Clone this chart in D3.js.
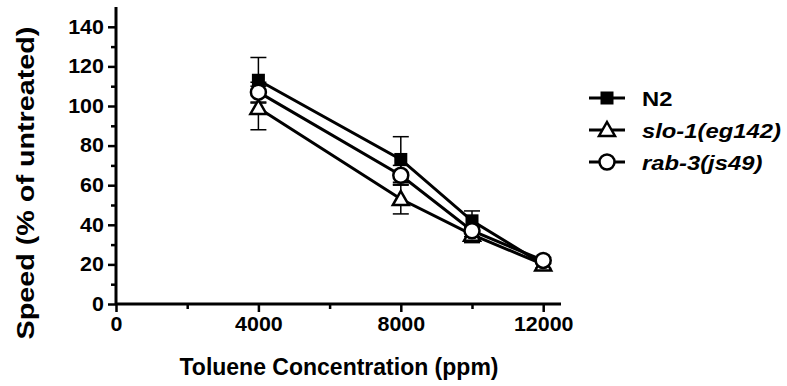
<!DOCTYPE html>
<html>
<head>
<meta charset="utf-8">
<script src="https://cdn.jsdelivr.net/npm/d3@7"></script>
<style>
  body { margin: 0; background: #fff; }
  text { font-family: "Liberation Sans", Arial, sans-serif; font-weight: bold; }
</style>
</head>
<body>
<script>
// concentrations (ppm)
var conc = [4000, 8000, 10000, 12000];
var seriesNames = ["N2", "slo-1(eg142)", "rab-3(js49)"];
var seriesShapes = ["square", "triangle", "circle"];
// speed (% of untreated), mean and SEM
var n2Mean = [113, 73, 42, 20];
var n2Err = [11.5, 11.5, 5, 2];
var sloMean = [99, 53, 35, 20];
var sloErr = [11, 7.5, 4, 2];
var rabMean = [107, 65, 37, 22];
var rabErr = [5, 5, 3, 1.5];
var xTicks = [0, 4000, 8000, 12000];
var yTicks = [0, 20, 40, 60, 80, 100, 120, 140];

var series = [
  { name: seriesNames[0], shape: seriesShapes[0], mean: n2Mean, err: n2Err },
  { name: seriesNames[1], shape: seriesShapes[1], mean: sloMean, err: sloErr },
  { name: seriesNames[2], shape: seriesShapes[2], mean: rabMean, err: rabErr }
];

var W = 787, H = 386;
var svg = d3.select("body").append("svg").attr("width", W).attr("height", H);

var x = d3.scaleLinear().domain([0, 12500]).range([116, 561]);
var y = d3.scaleLinear().domain([0, 150]).range([304, 7]);

// axes
var xAxis = svg.append("g").attr("transform", "translate(0,304)")
  .call(d3.axisBottom(x).tickValues(xTicks).tickFormat(d3.format("d")).tickSize(8).tickPadding(5));
svg.append("g").attr("transform", "translate(0,304)")
  .call(d3.axisBottom(x).tickValues([2000, 6000, 10000]).tickFormat("").tickSize(5))
  .call(function (g) { g.select(".domain").remove(); });
var yAxis = svg.append("g").attr("transform", "translate(116,0)")
  .call(d3.axisLeft(y).tickValues(yTicks).tickSize(8).tickPadding(3));
svg.append("g").attr("transform", "translate(116,0)")
  .call(d3.axisLeft(y).tickValues(d3.range(10, 150, 20)).tickFormat("").tickSize(5))
  .call(function (g) { g.select(".domain").remove(); });

svg.selectAll(".domain").attr("stroke", "#000").attr("stroke-width", 3);
svg.selectAll(".tick line").attr("stroke", "#000").attr("stroke-width", 2.5);
svg.selectAll(".tick text").attr("fill", "#000").style("font-size", "19.5px")
  .attr("transform", "scale(1.1,1)");
xAxis.select(".domain").attr("d", "M" + x(0) + ",0H" + x(12500));
yAxis.select(".domain").attr("d", "M0," + y(0) + "V" + y(150));

// axis titles
svg.append("text")
  .attr("x", 339).attr("y", 375)
  .attr("text-anchor", "middle")
  .style("font-size", "23px")
  .text("Toluene Concentration (ppm)");
svg.append("text")
  .attr("transform", "translate(34,183) rotate(-90) scale(1.25,1)")
  .attr("text-anchor", "middle")
  .style("font-size", "23px")
  .text("Speed (% of untreated)");

// symbol drawing
function drawMarker(g, shape) {
  if (shape === "square") {
    g.append("rect").attr("x", -6.5).attr("y", -6.5).attr("width", 13).attr("height", 13)
      .attr("fill", "#000");
  } else if (shape === "triangle") {
    g.append("path").attr("d", "M0,-8L8,6L-8,6Z")
      .attr("fill", "#fff").attr("stroke", "#000").attr("stroke-width", 2.5);
  } else {
    g.append("circle").attr("r", 7.5)
      .attr("fill", "#fff").attr("stroke", "#000").attr("stroke-width", 2.5);
  }
}

var line = d3.line()
  .x(function (d, i) { return x(conc[i]); })
  .y(function (d) { return y(d); });

// error bars first
series.forEach(function (s) {
  var eb = svg.append("g");
  s.mean.forEach(function (m, i) {
    var cx = x(conc[i]);
    eb.append("line").attr("x1", cx).attr("x2", cx)
      .attr("y1", y(m - s.err[i])).attr("y2", y(m + s.err[i]))
      .attr("stroke", "#000").attr("stroke-width", 1.5);
    [m - s.err[i], m + s.err[i]].forEach(function (v) {
      eb.append("line").attr("x1", cx - 8).attr("x2", cx + 8)
        .attr("y1", y(v)).attr("y2", y(v))
        .attr("stroke", "#000").attr("stroke-width", 1.5);
    });
  });
});

// lines and markers
series.forEach(function (s) {
  svg.append("path").datum(s.mean)
    .attr("d", line)
    .attr("fill", "none").attr("stroke", "#000").attr("stroke-width", 3);
});
series.forEach(function (s) {
  s.mean.forEach(function (m, i) {
    var g = svg.append("g").attr("transform", "translate(" + x(conc[i]) + "," + y(m) + ")");
    drawMarker(g, s.shape);
  });
});

// legend
var legend = svg.append("g");
series.forEach(function (s, i) {
  var ly = 98 + i * 32;
  var g = legend.append("g").attr("transform", "translate(607," + ly + ")");
  g.append("line").attr("x1", -18).attr("x2", 18)
    .attr("stroke", "#000").attr("stroke-width", 3);
  drawMarker(g, s.shape);
  g.append("text").attr("transform", "translate(35,8) scale(1.22,1)")
    .style("font-size", "19.5px")
    .style("font-style", i === 0 ? "normal" : "italic")
    .text(s.name);
});
</script>
</body>
</html>
